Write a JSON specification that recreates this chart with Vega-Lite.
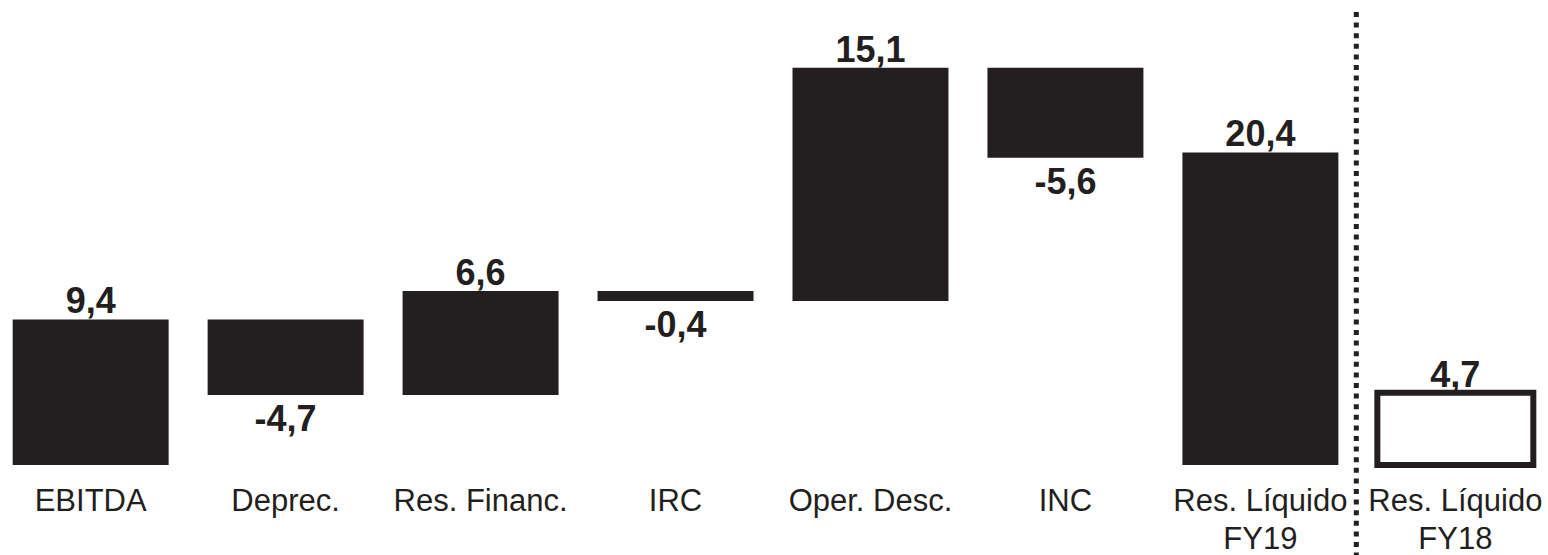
{
  "$schema": "https://vega.github.io/schema/vega-lite/v6.json",
  "width": 1546,
  "height": 465,
  "autosize": "none",
  "padding": {"left": 0, "top": 0, "right": 2, "bottom": 90},
  "background": "white",
  "config": {"view": {"stroke": null}, "font": "Liberation Sans"},
  "data": {
    "values": [
      {"cat": "EBITDA", "start": 0, "end": 9.45, "label": "9,4", "sign": "pos", "kind": "solid"},
      {"cat": "Deprec.", "start": 9.45, "end": 4.55, "label": "-4,7", "sign": "neg", "kind": "solid"},
      {"cat": "Res. Financ.", "start": 4.55, "end": 11.3, "label": "6,6", "sign": "pos", "kind": "solid"},
      {"cat": "IRC", "start": 11.3, "end": 10.65, "label": "-0,4", "sign": "neg", "kind": "solid"},
      {"cat": "Oper. Desc.", "start": 10.65, "end": 25.8, "label": "15,1", "sign": "pos", "kind": "solid"},
      {"cat": "INC", "start": 25.8, "end": 19.95, "label": "-5,6", "sign": "neg", "kind": "solid"},
      {"cat": "Res. Líquido\nFY19", "start": 0, "end": 20.3, "label": "20,4", "sign": "pos", "kind": "solid"},
      {"cat": "Res. Líquido\nFY18", "start": 0, "end": 4.7, "label": "4,7", "sign": "pos", "kind": "outline"}
    ]
  },
  "encoding": {
    "x": {
      "field": "cat",
      "type": "nominal",
      "sort": null,
      "scale": {"paddingInner": 0.2, "paddingOuter": 0.065},
      "axis": {
        "title": null,
        "domain": false,
        "ticks": false,
        "grid": false,
        "labelAngle": 0,
        "labelFont": "Liberation Sans",
        "labelFontSize": 31,
        "labelColor": "#231f20",
        "labelBaseline": "alphabetic",
        "labelPadding": 45,
        "labelLineHeight": 38,
        "labelOverlap": false,
        "labelBound": false,
        "labelFlush": false,
        "labelLimit": 400,
        "labelExpr": "split(datum.label, '\\n')"
      }
    }
  },
  "layer": [
    {
      "mark": {"type": "bar"},
      "encoding": {
        "y": {"field": "start", "type": "quantitative", "scale": {"domain": [0, 30.2], "nice": false}, "axis": null},
        "y2": {"field": "end"},
        "fill": {"field": "kind", "type": "nominal", "scale": {"domain": ["solid", "outline"], "range": ["#231f20", "#ffffff"]}, "legend": null},
        "stroke": {"value": "#231f20"},
        "strokeWidth": {"condition": {"test": "datum.kind === 'outline'", "value": 6}, "value": 0}
      }
    },
    {
      "transform": [{"filter": "datum.sign === 'pos'"}],
      "mark": {"type": "text", "baseline": "alphabetic", "dy": -6, "fontSize": 36, "fontWeight": "bold", "color": "#231f20", "font": "Liberation Sans"},
      "encoding": {
        "y": {"field": "end", "type": "quantitative"},
        "text": {"field": "label"}
      }
    },
    {
      "transform": [{"filter": "datum.sign === 'neg'"}],
      "mark": {"type": "text", "baseline": "alphabetic", "dy": 36, "fontSize": 36, "fontWeight": "bold", "color": "#231f20", "font": "Liberation Sans"},
      "encoding": {
        "y": {"field": "end", "type": "quantitative"},
        "text": {"field": "label"}
      }
    },
    {
      "data": {"values": [{"divider": "Res. Líquido\nFY18"}]},
      "mark": {"type": "rule", "color": "#231f20", "strokeWidth": 5, "strokeDash": [5, 5.6], "strokeCap": "butt"},
      "encoding": {
        "x": {"field": "divider", "type": "nominal", "bandPosition": -0.135},
        "y": {"value": 12},
        "y2": {"value": 555}
      }
    }
  ]
}
